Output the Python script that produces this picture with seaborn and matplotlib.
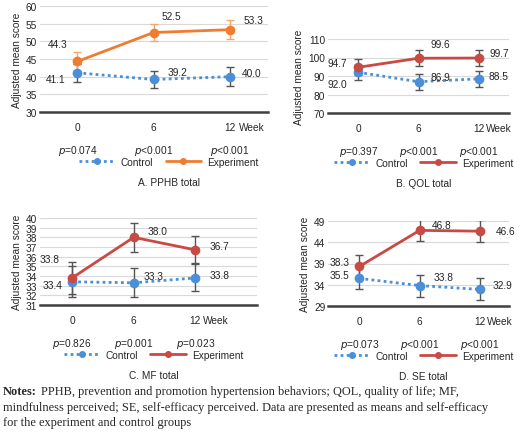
import matplotlib
matplotlib.use("Agg")
import matplotlib.pyplot as plt
import seaborn as sns
import pandas as pd
from matplotlib.lines import Line2D
from matplotlib.transforms import offset_copy

sns.set_theme(style="white")
plt.rcParams['font.family'] = ['Liberation Sans', 'DejaVu Sans']

weeks = ["0", "6", "12"]
A_ctrl = [41.1, 39.2, 40.0]; A_exp = [44.3, 52.5, 53.3]
A_ctrl_err = [2.5, 2.5, 2.6]; A_exp_err = [2.6, 2.5, 2.6]
B_ctrl = [92.0, 86.9, 88.5]; B_exp = [94.7, 99.6, 99.7]
B_ctrl_err = [4.0, 4.3, 4.3]; B_exp_err = [4.3, 4.3, 4.3]
C_ctrl = [33.4, 33.3, 33.8]; C_exp = [33.8, 38.0, 36.7]
C_ctrl_err = [1.6, 1.5, 1.4]; C_exp_err = [1.7, 1.5, 1.4]
D_ctrl = [35.5, 33.8, 32.9]; D_exp = [38.3, 46.8, 46.6]
D_ctrl_err = [2.6, 2.6, 2.6]; D_exp_err = [2.6, 2.6, 2.6]
A_p = ["0.074", "<0.001", "<0.001"]
B_p = ["0.397", "<0.001", "<0.001"]
C_p = ["0.826", "0.001", "0.023"]
D_p = ["0.073", "<0.001", "<0.001"]
titles = ["A. PPHB total", "B. QOL total", "C. MF total", "D. SE total"]

W, H = 520, 435
fig = plt.figure(figsize=(W/100, H/100), dpi=100)
FS = 7.3

def pax(x0, y0, x1, y1):
    return fig.add_axes([x0/W, 1-y1/H, (x1-x0)/W, (y1-y0)/H])

BLUE = "#4A8FD8"
panels = [
    dict(box=(40, 7, 268, 113), xlim=(-0.49, 2.5), ylim=(30, 60), ticks=range(30, 61, 5),
         ctrl=A_ctrl, exp=A_exp, ce=A_ctrl_err, ee=A_exp_err, p=A_p, ecol="#EE7D31",
         eoff=[(-20, 17), (18, 16), (24, 10)], coff=[(-22, -6), (24, 7), (22, 4)]),
    dict(box=(328, 40, 509, 114), xlim=(-0.5, 2.5), ylim=(70, 110), ticks=range(70, 111, 10),
         ctrl=B_ctrl, exp=B_exp, ce=B_ctrl_err, ee=B_exp_err, p=B_p, ecol="#C94A45",
         eoff=[(-21, 4), (22, 14), (20, 5)], coff=[(-21, -12), (22, 5), (20, 3)]),
    dict(box=(40, 219, 257, 306), xlim=(-0.52, 3.0), ylim=(31, 40), ticks=range(31, 41),
         ctrl=C_ctrl, exp=C_exp, ce=C_ctrl_err, ee=C_exp_err, p=C_p, ecol="#C94A45",
         eoff=[(-22, 19), (24, 6), (24, 4)], coff=[(-20, -3), (20, 7), (24, 3)]),
    dict(box=(328, 222, 509, 307), xlim=(-0.52, 2.48), ylim=(29, 49), ticks=range(29, 50, 5),
         ctrl=C_ctrl if False else D_ctrl, exp=D_exp, ce=D_ctrl_err, ee=D_exp_err, p=D_p, ecol="#C94A45",
         eoff=[(-20, 4), (22, 5), (26, 0)], coff=[(-20, 3), (24, 9), (22, 4)]),
]

for k, pn in enumerate(panels):
    ax = pax(*pn["box"])
    df = pd.DataFrame({"x": [0, 1, 2]*2,
                       "y": pn["ctrl"] + pn["exp"],
                       "g": ["Control"]*3 + ["Experiment"]*3})
    sns.lineplot(data=df[df.g == "Control"], x="x", y="y", ax=ax, color=BLUE, lw=2,
                 ls=(0, (1, 1.2)), marker="o", markersize=7, markeredgewidth=0, zorder=3)
    sns.lineplot(data=df[df.g == "Experiment"], x="x", y="y", ax=ax, color=pn["ecol"], lw=2,
                 marker="o", markersize=7, markeredgewidth=0, zorder=4)
    ax.errorbar([0, 1, 2], pn["ctrl"], yerr=pn["ce"], fmt="none", ecolor="#555555",
                elinewidth=1, capsize=3, zorder=2)
    ax.errorbar([0, 1, 2], pn["exp"], yerr=pn["ee"], fmt="none",
                ecolor="#555555" if pn["ecol"] != "#EE7D31" else "#F2A86F",
                elinewidth=1, capsize=3, zorder=2)
    for i in range(3):
        ax.annotate(f"{pn['exp'][i]:.1f}", (i, pn["exp"][i]), xytext=pn["eoff"][i],
                    textcoords="offset pixels", ha="center", va="center", fontsize=FS)
        ax.annotate(f"{pn['ctrl'][i]:.1f}", (i, pn["ctrl"][i]), xytext=pn["coff"][i],
                    textcoords="offset pixels", ha="center", va="center", fontsize=FS)
    ax.set_xlim(*pn["xlim"]); ax.set_ylim(*pn["ylim"])
    ax.set_yticks(list(pn["ticks"]))
    ax.set_xticks([0, 1, 2]); ax.set_xticklabels(weeks)
    ax.tick_params(labelsize=FS, length=0, pad=2)
    ax.tick_params(axis="x", pad=7)
    ax.grid(axis="y", color="#D9D9D9", lw=0.8); ax.set_axisbelow(True)
    for s in ["top", "right", "left"]:
        ax.spines[s].set_visible(False)
    ax.spines["bottom"].set_color("#404040"); ax.spines["bottom"].set_linewidth(1.8)
    ax.set_xlabel(""); ax.set_ylabel("Adjusted mean score", fontsize=FS, labelpad=3)
    tr = ax.get_xaxis_transform()
    ax.text(2.12, 0, "Week", transform=offset_copy(tr, fig=fig, y=-10, units="dots"),
            fontsize=FS, ha="left", va="top")
    for i in range(3):
        ax.text(i, 0, f"$p${'=' if not pn['p'][i].startswith('<') else ''}{pn['p'][i]}",
                transform=offset_copy(tr, fig=fig, y=-31, units="dots"),
                fontsize=FS, ha="center", va="top")
    x0, y0, x1, y1 = pn["box"]
    handles = [Line2D([], [], color=BLUE, ls=(0, (1, 1.2)), lw=2, marker="o", markersize=4),
               Line2D([], [], color=pn["ecol"], lw=2, marker="o", markersize=4)]
    cx = (x0 + x1) / 2 + (15 if k == 0 else 5)
    fig.legend(handles, ["Control", "Experiment"], loc="center",
               bbox_to_anchor=(cx/W, 1-(y1+50)/H), ncol=2, frameon=False, fontsize=FS,
               handlelength=3.5, columnspacing=1.2, handletextpad=0.6)
    fig.text(cx/W, 1-(y1+70)/H, titles[k], ha="center", va="center", fontsize=FS)

line1 = "PPHB, prevention and promotion hypertension behaviors; QOL, quality of life; MF,"
rest = ("mindfulness perceived; SE, self-efficacy perceived. Data are presented as means and self-efficacy\n"
        "for the experiment and control groups")
NF = 8.9
fig.text(3/W, 1-386/H, "Notes:", fontsize=NF, family="Liberation Serif", weight="bold", va="top")
fig.text(41/W, 1-386/H, line1, fontsize=NF, family="Liberation Serif", va="top")
fig.text(3/W, 1-402/H, rest, fontsize=NF, family="Liberation Serif", va="top", linespacing=1.3)
fig.savefig("out.png", dpi=100)
